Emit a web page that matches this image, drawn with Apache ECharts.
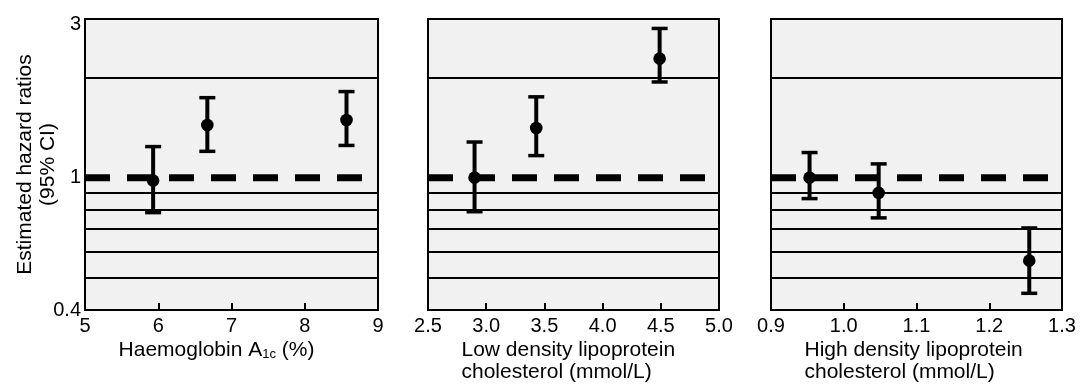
<!DOCTYPE html>
<html>
<head>
<meta charset="utf-8">
<script src="https://cdn.jsdelivr.net/npm/echarts@6/dist/echarts.min.js"></script>
<style>
  html, body { margin: 0; padding: 0; background: #fff; }
  #chart { width: 1083px; height: 385px; }
</style>
</head>
<body>
<div id="chart"></div>
<script>
// shared log axis for the hazard ratios
const yTicks = [0.4, 1, 3];
const refLevels = [0.5, 0.6, 0.7, 0.8, 0.9, 2];

// panel 1: haemoglobin A1c (%)
const hbTicks = [5, 6, 7, 8, 9];
const hbX = [5.93, 6.67, 8.57];
const hbHR = [0.98, 1.44, 1.49];
const hbLow = [0.785, 1.2, 1.25];
const hbHigh = [1.24, 1.74, 1.815];
const hbDash = [5, 8.8];

// panel 2: low density lipoprotein cholesterol
const ldlTicks = [2.5, 3.0, 3.5, 4.0, 4.5, 5.0];
const ldlX = [2.9, 3.43, 4.49];
const ldlHR = [1.0, 1.41, 2.28];
const ldlLow = [0.79, 1.165, 1.94];
const ldlHigh = [1.28, 1.75, 2.81];
const ldlDash = [2.5, 4.89];

// panel 3: high density lipoprotein cholesterol
const hdlTicks = [0.9, 1.0, 1.1, 1.2, 1.3];
const hdlX = [0.953, 1.048, 1.255];
const hdlHR = [1.0, 0.9, 0.563];
const hdlLow = [0.865, 0.757, 0.449];
const hdlHigh = [1.19, 1.1, 0.706];
const hdlDash = [0.9, 1.281];

const font = "'Liberation Sans', Arial, Helvetica, sans-serif";
const black = "#000";

const panels = [
  { left: 85, width: 293, ticks: hbTicks, digits: 0, x: hbX, hr: hbHR, lo: hbLow, hi: hbHigh, dash: hbDash,
    name: "{n|Haemoglobin A}{s|1c}{n| (%)}" },
  { left: 428, width: 291, ticks: ldlTicks, digits: 1, x: ldlX, hr: ldlHR, lo: ldlLow, hi: ldlHigh, dash: ldlDash,
    name: "{b|Low density lipoprotein}\n{b|cholesterol (mmol/L)}" },
  { left: 771, width: 291, ticks: hdlTicks, digits: 1, x: hdlX, hr: hdlHR, lo: hdlLow, hi: hdlHigh, dash: hdlDash,
    name: "{b|High density lipoprotein}\n{b|cholesterol (mmol/L)}" },
];

const nameRich = {
  n: { fontSize: 21, fontFamily: font, color: black, lineHeight: 22 },
  s: { fontSize: 13, fontFamily: font, color: black, lineHeight: 12, verticalAlign: "bottom" },
  b: { fontSize: 21, fontFamily: font, color: black, lineHeight: 22, width: 224, align: "left" },
};

const renderErrorBar = (params, api) => {
  const x = api.value(0);
  const mid = api.coord([x, api.value(1)]);
  const lo = api.coord([x, api.value(2)]);
  const hi = api.coord([x, api.value(3)]);
  const cap = 8;
  const capStyle = { stroke: black, lineWidth: 3.5 };
  return {
    type: "group",
    children: [
      { type: "line", shape: { x1: hi[0], y1: hi[1], x2: lo[0], y2: lo[1] }, style: { stroke: black, lineWidth: 4 } },
      { type: "line", shape: { x1: hi[0] - cap, y1: hi[1], x2: hi[0] + cap, y2: hi[1] }, style: capStyle },
      { type: "line", shape: { x1: lo[0] - cap, y1: lo[1], x2: lo[0] + cap, y2: lo[1] }, style: capStyle },
      { type: "circle", shape: { cx: mid[0], cy: mid[1], r: 6.3 }, style: { fill: black } },
    ],
  };
};

const chart = echarts.init(document.getElementById("chart"), null, { renderer: "canvas" });

const option = {
  animation: false,
  backgroundColor: "#fff",
  grid: panels.map((p) => ({
    left: p.left,
    width: p.width,
    top: 19,
    height: 291,
    outerBoundsMode: "none",
    containLabel: false,
    show: true,
    borderColor: black,
    borderWidth: 2,
    backgroundColor: "#f1f1f1",
  })),
  xAxis: panels.map((p, i) => ({
    type: "value",
    gridIndex: i,
    min: p.ticks[0],
    max: p.ticks[p.ticks.length - 1],
    interval: p.ticks[1] - p.ticks[0],
    axisLine: { show: false },
    axisTick: {
      show: true,
      inside: true,
      length: 7,
      customValues: p.ticks,
      lineStyle: { color: black, width: 2 },
    },
    axisLabel: {
      customValues: p.ticks,
      color: black,
      fontSize: 20,
      fontFamily: font,
      margin: 6,
      formatter: (v) => Number(v).toFixed(p.digits),
    },
    splitLine: { show: false },
    name: p.name,
    nameLocation: "middle",
    nameGap: 29,
    nameMoveOverlap: false,
    nameTextStyle: {
      fontSize: 21,
      fontFamily: font,
      color: black,
      lineHeight: 22,
      padding: i === 0 ? [0, 30, 0, 0] : 0,
      rich: nameRich,
    },
  })),
  yAxis: panels.map((p, i) => ({
    type: "log",
    logBase: 10,
    gridIndex: i,
    min: 0.4,
    max: 3,
    axisLine: { show: false },
    axisTick: { show: false },
    splitLine: { show: false },
    axisLabel: {
      show: i === 0,
      customValues: yTicks,
      color: black,
      fontSize: 20,
      fontFamily: font,
      margin: 4,
      formatter: (v) => {
        const s = String(Number(Number(v).toPrecision(3)));
        return v >= 2.9 ? "{top|" + s + "}" : s;
      },
      rich: { top: { fontSize: 20, fontFamily: font, color: black, padding: [10, 0, 0, 0] } },
    },
    name: i === 0 ? "Estimated hazard ratios\n(95% CI)" : "",
    nameLocation: "middle",
    nameGap: 25,
    nameMoveOverlap: false,
    nameTextStyle: { fontSize: 21, fontFamily: font, color: black, lineHeight: 23 },
  })),
  series: panels.flatMap((p, i) => [
    {
      type: "line",
      xAxisIndex: i,
      yAxisIndex: i,
      data: [[p.dash[0], 1], [p.dash[1], 1]],
      symbol: "none",
      silent: true,
      lineStyle: { color: black, width: 7, type: [25, 17], cap: "butt" },
      z: 3,
      markLine: {
        silent: true,
        symbol: "none",
        label: { show: false },
        lineStyle: { color: black, width: 2, type: "solid" },
        data: refLevels.map((v) => ({ yAxis: v })),
        z: 2,
      },
    },
    {
      type: "custom",
      xAxisIndex: i,
      yAxisIndex: i,
      data: p.x.map((v, k) => [v, p.hr[k], p.lo[k], p.hi[k]]),
      renderItem: renderErrorBar,
      silent: true,
      z: 5,
    },
  ]),
};

chart.setOption(option);
</script>
</body>
</html>
